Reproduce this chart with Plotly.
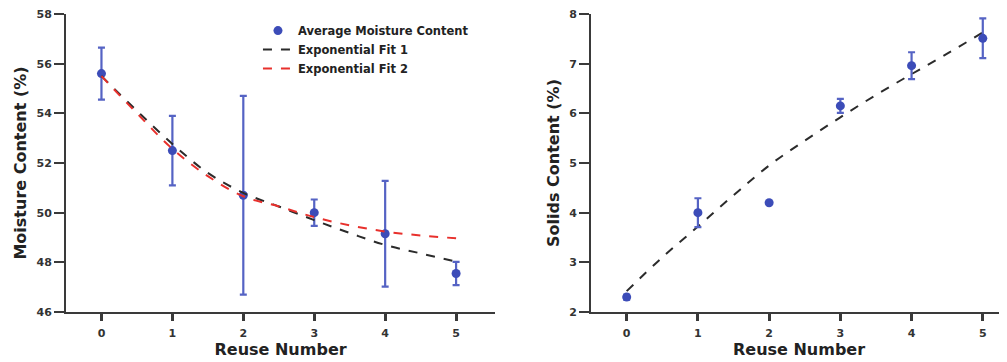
import plotly.graph_objects as go

# ---- data ----
reuse = [0, 1, 2, 3, 4, 5]
moisture = [55.6, 52.5, 50.7, 50.0, 49.15, 47.55]
moisture_err = [1.05, 1.4, 4.0, 0.53, 2.13, 0.47]

fit_x = [0, 0.5, 1, 1.5, 2, 2.5, 3, 3.5, 4, 4.5, 5]
fit1_moisture = [55.5, 54.1, 52.77, 51.6, 50.8, 50.25, 49.7, 49.18, 48.7, 48.36, 48.03]
fit2_moisture = [55.5, 54.0, 52.57, 51.47, 50.66, 50.25, 49.82, 49.49, 49.24, 49.08, 48.97]

solids = [2.3, 4.0, 4.2, 6.15, 6.96, 7.51]
solids_err = [0.05, 0.29, 0.0, 0.14, 0.27, 0.4]
fit_solids = [2.42, 3.1, 3.72, 4.35, 4.95, 5.45, 5.92, 6.37, 6.79, 7.2, 7.63]

left_yticks = [46, 48, 50, 52, 54, 56, 58]
right_yticks = [2, 3, 4, 5, 6, 7, 8]

BLUE = "#3c4cb8"
ERR = "#5563c4"
BLACK = "#2b2b2b"
RED = "#e8302c"
AXIS = "#3a3a3a"
FONT = "DejaVu Sans, Verdana, sans-serif"

fig = go.Figure()

fig.add_trace(go.Scatter(
    x=reuse, y=moisture, mode="markers", name="Average Moisture Content",
    marker=dict(color=BLUE, size=9),
    error_y=dict(type="data", array=moisture_err, color=ERR, thickness=2.2, width=3.5),
    xaxis="x", yaxis="y"))
fig.add_trace(go.Scatter(
    x=fit_x, y=fit1_moisture, mode="lines", name="Exponential Fit 1",
    line=dict(color=BLACK, width=2, dash="dash", shape="spline"),
    xaxis="x", yaxis="y"))
fig.add_trace(go.Scatter(
    x=fit_x, y=fit2_moisture, mode="lines", name="Exponential Fit 2",
    line=dict(color=RED, width=2, dash="dash", shape="spline"),
    xaxis="x", yaxis="y"))

fig.add_trace(go.Scatter(
    x=fit_x, y=fit_solids, mode="lines", showlegend=False,
    line=dict(color=BLACK, width=2, dash="dash", shape="spline"),
    xaxis="x2", yaxis="y2"))
fig.add_trace(go.Scatter(
    x=reuse, y=solids, mode="markers", showlegend=False,
    marker=dict(color=BLUE, size=9),
    error_y=dict(type="data", array=solids_err, color=ERR, thickness=2.2, width=3.5),
    xaxis="x2", yaxis="y2"))

axis_common = dict(
    showline=True, linecolor=AXIS, linewidth=2, ticks="outside",
    tickcolor=AXIS, showgrid=False, zeroline=False,
    tickfont=dict(family=FONT, size=11, color="#333", weight="bold"),
    mirror=False, ticklabeloverflow="allow",
)
title_font = dict(family=FONT, size=16, color="#222", weight="bold")

# the page body adds an 8px offset, so the figure is 8px smaller than the window
fig.update_layout(
    width=999, height=354,
    margin=dict(l=58, r=0, t=6, b=50),
    paper_bgcolor="white", plot_bgcolor="white",
    font=dict(family=FONT),
    xaxis=dict(domain=[0, 0.456], range=[-0.5, 5.55], tickvals=reuse,
               ticklen=7, tickwidth=2.5, ticklabelstandoff=3,
               title=dict(text="Reuse Number", font=title_font, standoff=5),
               anchor="y", **axis_common),
    yaxis=dict(domain=[0, 1], range=[46, 58], tickvals=left_yticks,
               ticklen=10, tickwidth=2,
               title=dict(text="Moisture Content (%)", font=title_font, standoff=6),
               anchor="x", **axis_common),
    xaxis2=dict(domain=[0.558, 1.0], range=[-0.5, 5.34], tickvals=reuse,
                ticklen=7, tickwidth=2.5, ticklabelstandoff=3,
                title=dict(text="Reuse Number", font=title_font, standoff=5),
                anchor="y2", **axis_common),
    yaxis2=dict(domain=[0, 1], range=[2, 8], tickvals=right_yticks,
                ticklen=10, tickwidth=2,
                title=dict(text="Solids Content (%)", font=title_font, standoff=6),
                anchor="x2", **axis_common),
    legend=dict(x=0.204, y=0.993, xanchor="left", yanchor="top",
                bgcolor="rgba(0,0,0,0)", borderwidth=0, tracegroupgap=0,
                font=dict(family=FONT, size=11.5, color="#222", weight="bold")),
    showlegend=True,
)

fig.write_html("out.html")
